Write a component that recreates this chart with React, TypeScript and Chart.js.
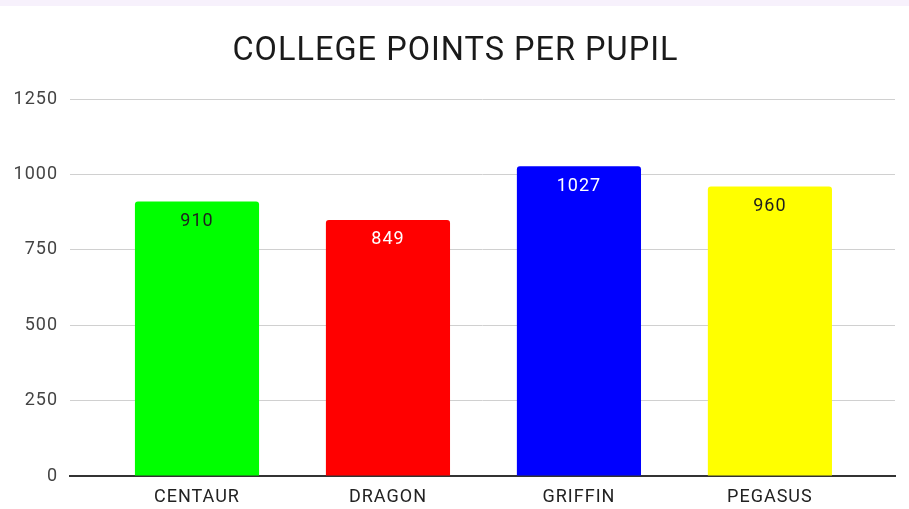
import React, { useEffect, useRef } from "react";
import { Chart, registerables } from "chart.js";

Chart.register(...registerables);

const categories = ["CENTAUR", "DRAGON", "GRIFFIN", "PEGASUS"];
const values = [910, 849, 1027, 960];
const barColors = ["#00ff00", "#ff0000", "#0000ff", "#ffff00"];
const labelColors = ["#1f1f1f", "#ffffff", "#ffffff", "#1f1f1f"];
const yTicks = [0, 250, 500, 750, 1000, 1250];

const spacingPlugin = {
  id: "spacing",
  beforeLayout(chart: any) {
    chart.ctx.letterSpacing = "1px";
  },
  afterLayout(chart: any) {
    if (chart.titleBlock) {
      chart.titleBlock.left = 16;
    }
  },
  beforeDraw(chart: any) {
    chart.ctx.letterSpacing = "1px";
  },
};

const valueLabelPlugin = {
  id: "valueLabels",
  afterDatasetsDraw(chart: any) {
    const ctx = chart.ctx;
    const meta = chart.getDatasetMeta(0);
    ctx.save();
    ctx.font = "18px Roboto";
    ctx.textAlign = "center";
    ctx.textBaseline = "top";
    meta.data.forEach((bar: any, i: number) => {
      ctx.fillStyle = labelColors[i];
      ctx.fillText(String(values[i]), bar.x, bar.y + 11);
    });
    ctx.restore();
  },
};

export default function App() {
  const ref = useRef<HTMLCanvasElement | null>(null);

  useEffect(() => {
    document.body.style.margin = "0";
    const canvas = ref.current!;
    const chart = new Chart(canvas, {
      type: "bar",
      data: {
        datasets: [
          {
            data: values.map((v, i) => ({ x: i, y: v })),
            backgroundColor: barColors,
            borderRadius: { topLeft: 3, topRight: 3, bottomLeft: 0, bottomRight: 0 },
            borderSkipped: "bottom",
            barPercentage: 0.65,
            categoryPercentage: 1,
          },
        ],
      },
      options: {
        animation: false,
        responsive: false,
        maintainAspectRatio: false,
        layout: { padding: { left: 0, right: 14, top: 0, bottom: 3 } },
        plugins: {
          legend: { display: false },
          tooltip: { enabled: false },
          title: {
            display: true,
            text: "COLLEGE POINTS PER PUPIL",
            color: "#1a1a1a",
            font: { family: "Roboto", size: 32.5, weight: "normal" },
            padding: { top: 26, bottom: 28 },
          },
        },
        scales: {
          x: {
            type: "linear",
            min: -0.665,
            max: 3.655,
            offset: false,
            afterBuildTicks: (scale: any) => {
              scale.ticks = categories.map((_, i) => ({ value: i }));
            },
            afterFit: (scale: any) => {
              scale.height = 30;
            },
            ticks: {
              callback: (v: any) => categories[v as number] ?? "",
              color: "#222",
              font: { family: "Roboto", size: 18 },
              padding: 11,
              autoSkip: false,
              maxRotation: 0,
            },
            grid: { display: false, drawTicks: false },
            border: { display: true, color: "#333", width: 2 },
          },
          y: {
            min: 0,
            max: 1250,
            afterBuildTicks: (scale: any) => {
              scale.ticks = yTicks.map((v) => ({ value: v }));
            },
            afterFit: (scale: any) => {
              scale.width = 70;
            },
            ticks: {
              callback: (v: any) => String(v),
              color: "#444",
              font: { family: "Roboto", size: 18 },
              padding: 12,
            },
            grid: { color: "#d0d0d0", lineWidth: 1, drawTicks: false },
            border: { display: false },
          },
        },
      },
      plugins: [spacingPlugin, valueLabelPlugin],
    } as any);
    return () => chart.destroy();
  }, []);

  return (
    <div style={{ width: 909, height: 509, background: "#ffffff", position: "relative" }}>
      <div style={{ height: 6, background: "#f7f1fc" }} />
      <canvas ref={ref} width={909} height={503} style={{ display: "block" }} />
    </div>
  );
}
